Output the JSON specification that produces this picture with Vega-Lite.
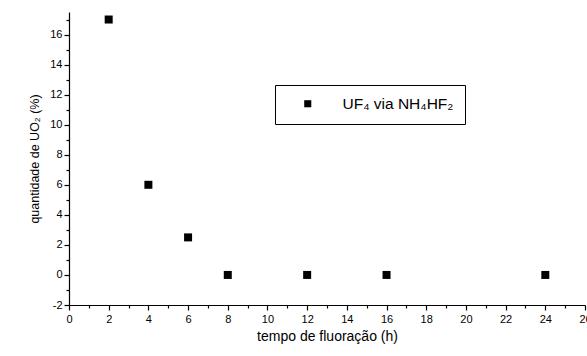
{
  "$schema": "https://vega.github.io/schema/vega-lite/v6.json",
  "width": 516,
  "height": 293,
  "autosize": {"type": "none"},
  "padding": {"left": 69, "top": 12, "right": 2, "bottom": 51},
  "data": {"values": [
    {"t": 2, "q": 17, "s": "UF₄ via NH₄HF₂"},
    {"t": 4, "q": 6, "s": "UF₄ via NH₄HF₂"},
    {"t": 6, "q": 2.5, "s": "UF₄ via NH₄HF₂"},
    {"t": 8, "q": 0, "s": "UF₄ via NH₄HF₂"},
    {"t": 12, "q": 0, "s": "UF₄ via NH₄HF₂"},
    {"t": 16, "q": 0, "s": "UF₄ via NH₄HF₂"},
    {"t": 24, "q": 0, "s": "UF₄ via NH₄HF₂"}
  ]},
  "mark": {"type": "point", "shape": "square", "filled": true, "size": 64, "opacity": 1},
  "encoding": {
    "x": {
      "field": "t", "type": "quantitative",
      "scale": {"domain": [0, 26], "nice": false, "zero": false},
      "axis": {
        "title": "tempo de fluoração (h)",
        "values": [0,1,2,3,4,5,6,7,8,9,10,11,12,13,14,15,16,17,18,19,20,21,22,23,24,25,26],
        "labelExpr": "datum.value % 2 == 0 ? toString(datum.value) : ''",
        "tickSize": {"condition": {"test": "datum.value % 2 != 0", "value": 3}, "value": 5},
        "labelPadding": 3,
        "titlePadding": 5,
        "titleFontSize": 14,
        "grid": false
      }
    },
    "y": {
      "field": "q", "type": "quantitative",
      "scale": {"domain": [-2, 17.5], "nice": false, "zero": false},
      "axis": {
        "title": "quantidade de UO₂ (%)",
        "values": [-2,-1,0,1,2,3,4,5,6,7,8,9,10,11,12,13,14,15,16,17],
        "labelExpr": "datum.value % 2 == 0 ? toString(datum.value) : ''",
        "tickSize": {"condition": {"test": "datum.value % 2 != 0", "value": 3}, "value": 5},
        "labelPadding": 2,
        "titlePadding": 8,
        "titleFontSize": 12.5,
        "grid": false
      }
    },
    "color": {
      "field": "s", "type": "nominal",
      "scale": {"range": ["black"]},
      "legend": {
        "title": null,
        "orient": "none",
        "legendX": 206,
        "legendY": 73,
        "strokeColor": "black",
        "fillColor": "white",
        "padding": 11,
        "symbolType": "square",
        "symbolSize": 50,
        "symbolOffset": 14,
        "labelOffset": 27,
        "labelFontSize": 15.5,
        "labelFont": "Liberation Sans",
        "labelColor": "black"
      }
    }
  },
  "config": {
    "view": {"stroke": null},
    "font": "Liberation Sans",
    "axis": {
      "domainColor": "black",
      "domainWidth": 1.2,
      "tickColor": "black",
      "tickWidth": 1.2,
      "labelColor": "black",
      "labelFontSize": 11,
      "labelFont": "Liberation Sans",
      "titleColor": "black",
      "titleFont": "Liberation Sans",
      "titleFontWeight": "normal",
      "labelFlush": false,
      "labelOverlap": false
    }
  }
}
